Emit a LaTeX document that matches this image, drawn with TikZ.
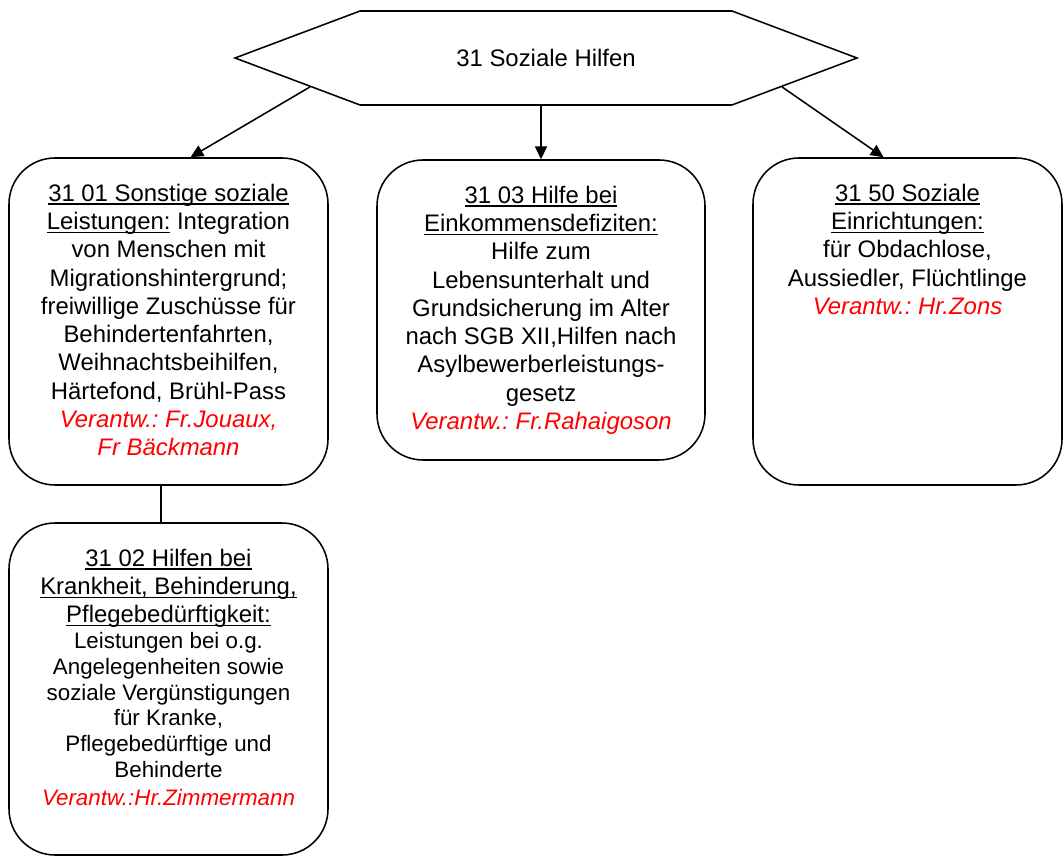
\documentclass[tikz,border=0pt]{standalone}
\usepackage{fontspec}
\setmainfont{Liberation Sans}
\frenchspacing
\usetikzlibrary{positioning,shapes.symbols,arrows.meta}

% Stil fuer die Unterabschnitte, #1 = Hoehe des Textbereichs
\tikzset{
  unit/.style={draw, line width=1.1pt, rounded corners=1.15cm,
    inner xsep=0pt, inner ysep=0.65cm,
    execute at begin node={\begin{minipage}[t][#1][t]{7.4cm}\centering\fontsize{17}{20.1}\selectfont},
    execute at end node={\end{minipage}}},
  head/.style={draw, line width=1.1pt, shape=signal, signal to=west and east,
    signal pointer angle=41.2, minimum width=15.55cm, minimum height=2.35cm,
    font=\fontsize{17}{20}\selectfont}
}
\newcommand{\verantw}[1]{{\color{red}\itshape #1}}
% Unterstreichung in fester Tiefe (durch die Unterlaengen)
\newcommand{\unterstrich}[1]{\leavevmode\setbox0\hbox{#1}\rlap{\rule[-2.4pt]{\wd0}{1pt}}\box0\relax}

\begin{document}
\begin{tikzpicture}[node distance=2cm,on grid,>={Triangle[length=0.32cm,width=0.3cm]}]
  \useasboundingbox (0,0) rectangle (26.575,-21.425);
  \node[head] (hex) at (13.65,-1.45) {31 Soziale Hilfen};
  \node[unit=6.875cm, minimum width=7.975cm] (u3101) [below left=6.5875cm and 9.4375cm of hex]
    {\unterstrich{31 01 Sonstige soziale}\\
     \unterstrich{Leistungen:} Integration\\
     von Menschen mit\\
     Migrationshintergrund;\\
     freiwillige Zusch\"usse f\"ur\\
     Behindertenfahrten,\\
     Weihnachtsbeihilfen,\\
     H\"artefond, Br\"uhl-Pass\\
     \verantw{Verantw.: Fr.Jouaux,}\\
     \verantw{Fr B\"ackmann}};
  \node[unit=6.2cm, minimum width=8.2cm] (u3103) [below left=6.3cm and 0.125cm of hex]
    {\unterstrich{31 03 Hilfe bei}\\
     \unterstrich{Einkommensdefiziten:}\\
     Hilfe zum\\
     Lebensunterhalt und\\
     Grundsicherung im Alter\\
     nach SGB XII,Hilfen nach\\
     Asylbewerberleistungs-\\
     gesetz\\
     \verantw{Verantw.: Fr.Rahaigoson}};
  \node[unit=6.875cm, minimum width=7.725cm] (u3150) [below right=6.5875cm and 9.0375cm of hex]
    {\unterstrich{31 50 Soziale}\\
     \unterstrich{Einrichtungen:}\\
     f\"ur Obdachlose,\\
     Aussiedler, Fl\"uchtlinge\\
     \verantw{Verantw.: Hr.Zons}};
  \node[unit=7cm, minimum width=7.975cm] (u3102) [below=9.1875cm of u3101]
    {\unterstrich{31 02 Hilfen bei}\\
     \unterstrich{Krankheit, Behinderung,}\\
     \unterstrich{Pflegebed\"urftigkeit:}\par
     \fontsize{15.9}{18.3}\selectfont
     Leistungen bei o.g.\\
     Angelegenheiten sowie\\
     soziale Verg\"unstigungen\\
     f\"ur Kranke,\\
     Pflegebed\"urftige und\\
     Behinderte\\
     \verantw{Verantw.:Hr.Zimmermann}};
  \path[->, line width=1.1pt]
    (hex.187) edge ([xshift=0.55cm]u3101.north)
    (u3103.north |- hex.south) edge (u3103.north)
    (hex.353) edge ([xshift=-0.6cm]u3150.north);
  \draw[line width=1.1pt] ([xshift=-0.19cm]u3101.south) -- ([xshift=-0.19cm]u3102.north);
\end{tikzpicture}
\end{document}
